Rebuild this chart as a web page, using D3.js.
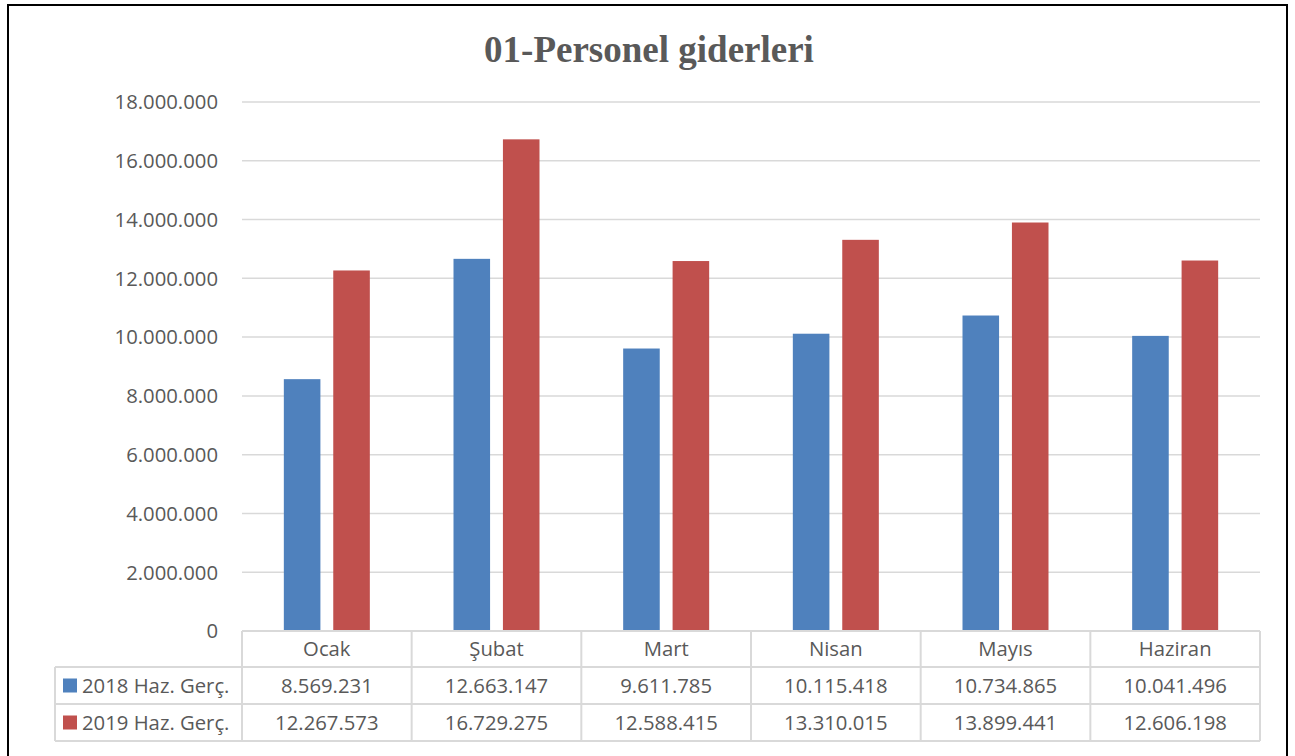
<!DOCTYPE html>
<html><head><meta charset="utf-8">
<script src="https://cdn.jsdelivr.net/npm/d3@7"></script>
<style>body{margin:0;background:#fff}svg{display:block}</style>
</head><body>
<script>
const categories = ["Ocak","Şubat","Mart","Nisan","Mayıs","Haziran"];
const seriesNames = ["2018 Haz. Gerç.","2019 Haz. Gerç."];
const values2018 = [8569231,12663147,9611785,10115418,10734865,10041496];
const values2019 = [12267573,16729275,12588415,13310015,13899441,12606198];
const yTicks = [0,2000000,4000000,6000000,8000000,10000000,12000000,14000000,16000000,18000000];
const colors = ["#4F81BD","#C0504D"];
const title = "01-Personel giderleri";

(function(){
const W=1295,H=756;
const svg=d3.select("body").append("svg").attr("width",W).attr("height",H);
svg.append("rect").attr("x",8).attr("y",5).attr("width",1279).attr("height",760).attr("fill","#fff").attr("stroke","#000").attr("stroke-width",2);

const fmt = v => d3.format(",")(v).replace(/,/g,".");
const pLeft=242,pRight=1260,pTop=102,pBottom=631;
const x=d3.scaleBand().domain(categories).range([pLeft,pRight]);
const y=d3.scaleLinear().domain([0,18000000]).range([pBottom,pTop]);
const xs=d3.scaleBand().domain([0,1]).range([0,86]).paddingInner(0.26);
const font="'Open Sans', 'Liberation Sans', sans-serif";
const fs=20.3;

svg.append("text").attr("x",649).attr("y",62).attr("text-anchor","middle")
  .attr("font-family","'Liberation Serif','Times New Roman',serif").attr("font-weight","bold")
  .attr("font-size",37).attr("fill","#595959").text(title);

const ga=svg.append("g");
ga.selectAll("line.g").data(yTicks.filter(d=>d>0)).join("line")
  .attr("x1",pLeft).attr("x2",pRight).attr("y1",d=>y(d)).attr("y2",d=>y(d))
  .attr("stroke","#d9d9d9").attr("stroke-width",1.5);
ga.selectAll("text.t").data(yTicks).join("text")
  .attr("x",218).attr("y",d=>y(d)).attr("dy","0.36em").attr("text-anchor","end")
  .attr("font-family",font).attr("font-size",fs).attr("fill","#595959").text(d=>fmt(d));

const series=[values2018,values2019];
series.forEach((vals,si)=>{
  svg.append("g").selectAll("rect").data(categories).join("rect")
    .attr("x",(d,i)=>x(d)+(x.bandwidth()-86)/2+xs(si))
    .attr("width",xs.bandwidth())
    .attr("y",(d,i)=>y(vals[i])).attr("height",(d,i)=>pBottom-y(vals[i]))
    .attr("fill",colors[si]);
});

const tl=svg.append("g");
const rowY=[631,667,704,741];
const tableLeft=55;
const lc="#d9d9d9";
tl.append("line").attr("x1",pLeft).attr("x2",pRight).attr("y1",rowY[0]).attr("y2",rowY[0]).attr("stroke",lc).attr("stroke-width",2);
[1,2,3].forEach(r=>tl.append("line").attr("x1",tableLeft).attr("x2",pRight).attr("y1",rowY[r]).attr("y2",rowY[r]).attr("stroke",lc).attr("stroke-width",2));
tl.append("line").attr("x1",tableLeft).attr("x2",tableLeft).attr("y1",rowY[1]).attr("y2",rowY[3]).attr("stroke",lc).attr("stroke-width",2);
categories.forEach(c=>tl.append("line").attr("x1",x(c)).attr("x2",x(c)).attr("y1",rowY[0]).attr("y2",rowY[3]).attr("stroke",lc).attr("stroke-width",2));
tl.append("line").attr("x1",pRight).attr("x2",pRight).attr("y1",rowY[0]).attr("y2",rowY[3]).attr("stroke",lc).attr("stroke-width",2);
tl.append("g").selectAll("text").data(categories).join("text")
  .attr("x",d=>x(d)+x.bandwidth()/2).attr("y",(rowY[0]+rowY[1])/2).attr("dy","0.36em")
  .attr("text-anchor","middle").attr("font-family",font).attr("font-size",fs).attr("fill","#595959").text(d=>d);
series.forEach((vals,si)=>{
  const cy=(rowY[si+1]+rowY[si+2])/2;
  tl.append("rect").attr("x",63).attr("y",cy-7).attr("width",14).attr("height",14).attr("fill",colors[si]);
  tl.append("text").attr("x",82).attr("y",cy).attr("dy","0.36em").attr("font-family",font).attr("font-size",fs).attr("fill","#595959").text(seriesNames[si]);
  tl.append("g").selectAll("text").data(categories).join("text")
    .attr("x",d=>x(d)+x.bandwidth()/2).attr("y",cy).attr("dy","0.36em")
    .attr("text-anchor","middle").attr("font-family",font).attr("font-size",fs).attr("fill","#595959")
    .text((d,i)=>fmt(vals[i]));
});
})();
</script>
</body></html>
